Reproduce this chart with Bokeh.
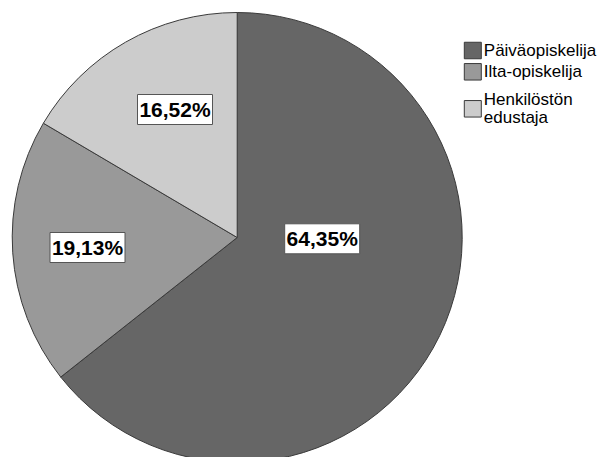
import math
from bokeh.plotting import figure
from bokeh.models import Range1d
from bokeh.core.properties import value
from bokeh.embed import file_html
from bokeh.resources import INLINE

# data
categories = ["Päiväopiskelija", "Ilta-opiskelija", "Henkilöstön\nedustaja"]
percents = [64.35, 19.13, 16.52]
pct_labels = ["64,35%", "19,13%", "16,52%"]
colors = ["#666666", "#999999", "#cccccc"]

W, H = 604, 457
p = figure(width=W, height=H, output_backend="svg", toolbar_location=None,
           x_range=Range1d(0, W), y_range=Range1d(0, H), min_border=0)
p.axis.visible = False
p.grid.visible = False
p.outline_line_color = None
p.background_fill_color = "white"
p.border_fill_color = "white"

cx, cy, r = 236.7, H - 237, 225
total = sum(percents)
starts, ends = [], []
acc = 0.0
for v in percents:
    starts.append(math.pi / 2 - acc / total * 2 * math.pi)
    acc += v
    ends.append(math.pi / 2 - acc / total * 2 * math.pi)

p.wedge(x=[cx] * 3, y=[cy] * 3, radius=r, start_angle=starts, end_angle=ends,
        direction="clock", fill_color=colors, line_color="#3a3a3a", line_width=1)

# percentage labels (boxes)
lab_x = [321.7, 87.0, 174.5]
lab_y = [H - 238.3, H - 247.0, H - 109.0]
p.rect(x=lab_x, y=lab_y, width=75, height=30, fill_color="white",
       line_color="#555555", line_width=1)
p.text(x=lab_x, y=lab_y, text=pct_labels, text_font=value("Liberation Sans"),
       text_font_style="bold", text_font_size="21px", text_align="center",
       text_baseline="middle", text_color="black")

# legend
leg_x = 472.3
leg_y = [H - 50.0, H - 71.3, H - 108.3]
p.rect(x=[leg_x] * 3, y=leg_y, width=17, height=16.5, fill_color=colors,
       line_color="#3a3a3a", line_width=1)
p.text(x=[leg_x + 11] * 3, y=leg_y, text=categories,
       text_font=value("Liberation Sans"), text_font_size="17px",
       text_align="left", text_baseline="middle", text_color="black",
       text_line_height=0.95)

open("out.html", "w").write(file_html(p, INLINE))
